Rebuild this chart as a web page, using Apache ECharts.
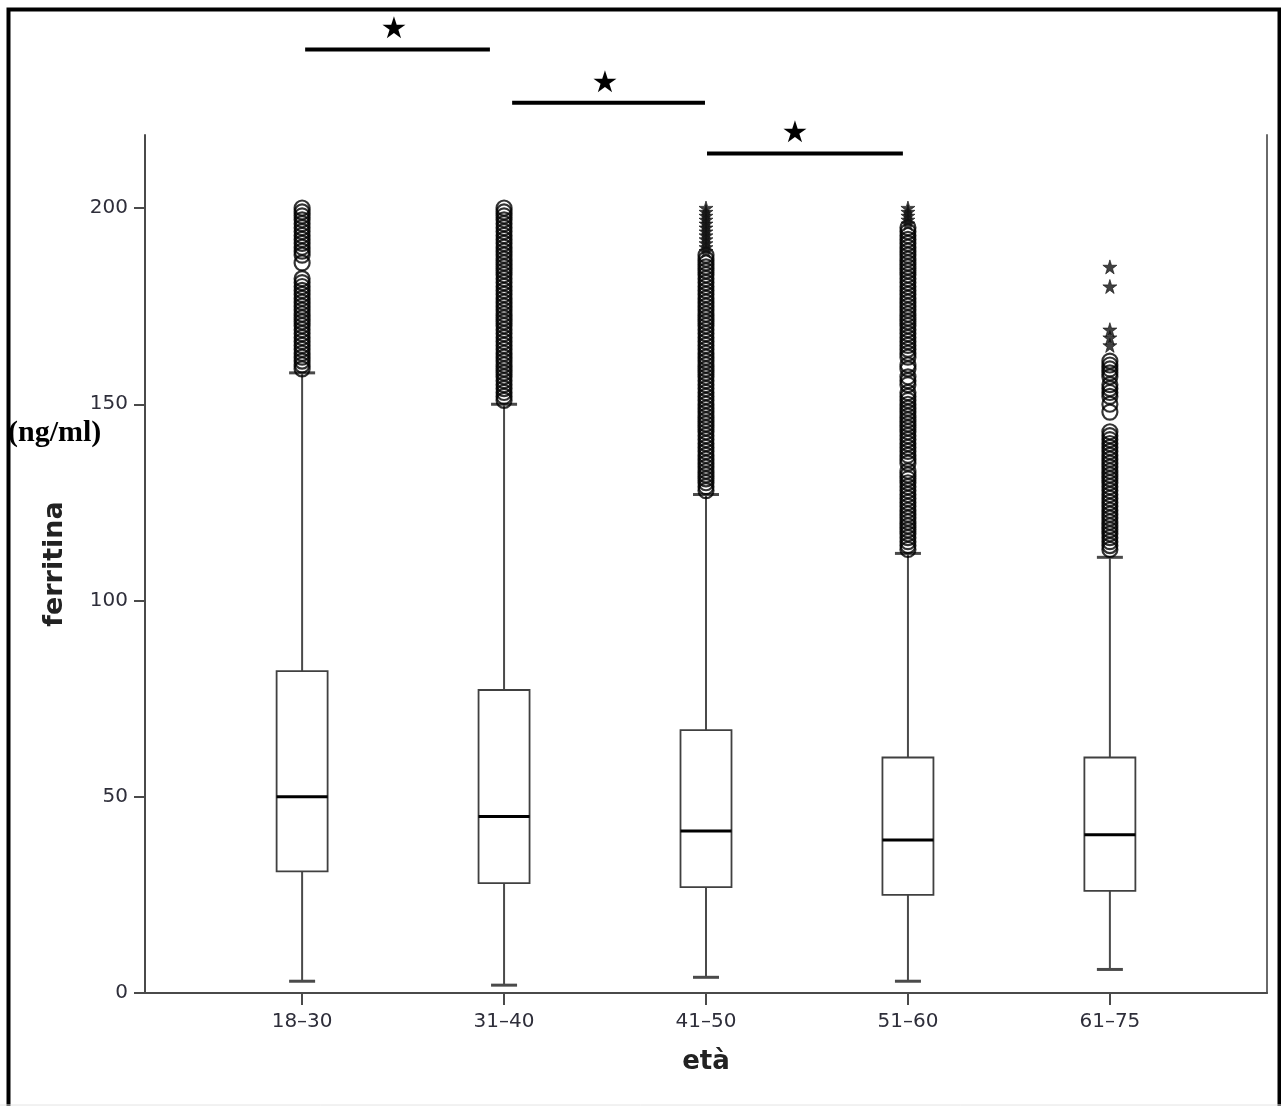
<!DOCTYPE html>
<html>
<head>
<meta charset="utf-8">
<title>ferritina per età</title>
<script src="https://cdn.jsdelivr.net/npm/echarts@6/dist/echarts.min.js"></script>
<style>
    html, body { margin: 0; padding: 0; background: #fff; }
    #chart { width: 1281px; height: 1106px; }
</style>
</head>
<body>
<div id="chart"></div>
<script>
// age groups and box statistics
var categories = ['18–30', '31–40', '41–50', '51–60', '61–75'];
var whiskerLow = [3, 2, 4, 3, 6];
var q1 = [31, 28, 27, 25, 26];
var median = [50, 45, 41.3, 39, 40.3];
var q3 = [82, 77.2, 67, 60, 60];
var whiskerHigh = [158, 150, 127, 112, 111];
var yTicks = [0, 50, 100, 150, 200];

// outliers (circles) and extremes (stars) per group
var circles1830 = [159, 160, 161, 162, 163, 164, 165, 166, 167, 168, 169, 170, 171, 172, 173, 174, 175, 176, 177, 178, 179, 180, 181, 182, 186, 188, 189, 190, 191, 192, 193, 194, 195, 196, 197, 198, 199, 200];
var circles3140 = [151, 152, 153, 154, 155, 156, 157, 158, 159, 160, 161, 162, 163, 164, 165, 166, 167, 168, 169, 170, 171, 172, 173, 174, 175, 176, 177, 178, 179, 180, 181, 182, 183, 184, 185, 186, 187, 188, 189, 190, 191, 192, 193, 194, 195, 196, 197, 198, 199, 200];
var circles4150 = [128, 129, 130, 131, 132, 133, 134, 135, 136, 137, 138, 139, 140, 141, 142, 143, 144, 145, 146, 147, 148, 149, 150, 151, 152, 153, 154, 155, 156, 157, 158, 159, 160, 161, 162, 163, 164, 165, 166, 167, 168, 169, 170, 171, 172, 173, 174, 175, 176, 177, 178, 179, 180, 181, 182, 183, 184, 185, 186, 187, 188];
var stars4150 = [189, 190, 191, 192, 193, 194, 195, 196, 197, 198, 199, 200];
var circles5160 = [113, 114, 115, 116, 117, 118, 119, 120, 121, 122, 123, 124, 125, 126, 127, 128, 129, 130, 131, 132, 133, 135, 136, 137, 138, 139, 140, 141, 142, 143, 144, 145, 146, 147, 148, 149, 150, 151, 152, 153, 155, 156, 157, 159, 160, 162, 163, 164, 165, 166, 167, 168, 169, 170, 171, 172, 173, 174, 175, 176, 177, 178, 179, 180, 181, 182, 183, 184, 185, 186, 187, 188, 189, 190, 191, 192, 193, 194, 195];
var stars5160 = [196, 197, 198, 199, 200];
var circles6175 = [113, 114, 115, 116, 117, 118, 119, 120, 121, 122, 123, 124, 125, 126, 127, 128, 129, 130, 131, 132, 133, 134, 135, 136, 137, 138, 139, 140, 141, 142, 143, 148, 150, 152, 153, 154, 155, 157, 158, 159, 160, 161];
var stars6175 = [165, 167, 169, 180, 185];

// significance brackets: from group, to group, level, star position
var bracketFrom = [1.015, 2.04, 3.005];
var bracketTo = [1.93, 2.995, 3.975];
var bracketLevel = [240.4, 226.8, 213.9];
var bracketStar = [1.455, 2.5, 3.44];

var circleGroups = [circles1830, circles3140, circles4150, circles5160, circles6175];
var starGroups = [[], [], stars4150, stars5160, stars6175];

var boxData = categories.map(function (c, i) {
    return [i + 1, whiskerLow[i], q1[i], median[i], q3[i], whiskerHigh[i]];
});
var circleData = [];
var starData = [];
circleGroups.forEach(function (arr, i) {
    arr.forEach(function (v) { circleData.push([i + 1, v]); });
});
starGroups.forEach(function (arr, i) {
    arr.forEach(function (v) { starData.push([i + 1, v]); });
});
var bracketData = bracketFrom.map(function (f, i) {
    return [f, bracketTo[i], bracketLevel[i], bracketStar[i]];
});

var starPath = 'path://M50,0 L61,35 L98,35 L68,57 L79,91 L50,70 L21,91 L32,57 L2,35 L39,35 Z';

function renderBox(params, api) {
    var x = api.value(0);
    var lo = api.coord([x, api.value(1)]);
    var b1 = api.coord([x, api.value(2)]);
    var md = api.coord([x, api.value(3)]);
    var b3 = api.coord([x, api.value(4)]);
    var hi = api.coord([x, api.value(5)]);
    var cx = lo[0];
    var half = 25.5, cap = 13;
    var wStyle = { stroke: '#4a4a4a', lineWidth: 2 };
    return {
        type: 'group',
        children: [
            { type: 'line', shape: { x1: cx, y1: b1[1], x2: cx, y2: lo[1] }, style: wStyle },
            { type: 'line', shape: { x1: cx - cap, y1: lo[1], x2: cx + cap, y2: lo[1] }, style: { stroke: '#4a4a4a', lineWidth: 3 } },
            { type: 'line', shape: { x1: cx, y1: b3[1], x2: cx, y2: hi[1] }, style: wStyle },
            { type: 'line', shape: { x1: cx - cap, y1: hi[1], x2: cx + cap, y2: hi[1] }, style: { stroke: '#4a4a4a', lineWidth: 3 } },
            { type: 'rect', shape: { x: cx - half, y: b3[1], width: half * 2, height: b1[1] - b3[1] },
              style: { fill: '#fff', stroke: '#404040', lineWidth: 1.8 } },
            { type: 'line', shape: { x1: cx - half, y1: md[1], x2: cx + half, y2: md[1] }, style: { stroke: '#000', lineWidth: 3 } }
        ]
    };
}

function renderBracket(params, api) {
    var a = api.coord([api.value(0), api.value(2)]);
    var b = api.coord([api.value(1), api.value(2)]);
    var s = api.coord([api.value(3), api.value(2)]);
    return {
        type: 'group',
        children: [
            { type: 'line', shape: { x1: a[0], y1: a[1], x2: b[0], y2: b[1] }, style: { stroke: '#000', lineWidth: 4 } },
            { type: 'text', x: s[0], y: s[1] - 19,
              style: { text: '★', font: '30px "DejaVu Sans"', fill: '#000', align: 'center', verticalAlign: 'middle' } }
        ]
    };
}

var chart = echarts.init(document.getElementById('chart'));
chart.setOption({
    animation: false,
    backgroundColor: '#fff',
    grid: { left: 145, right: 14, top: 135, bottom: 113 },
    xAxis: {
        type: 'value',
        min: 0.222,
        max: 5.778,
        name: 'età',
        nameLocation: 'middle',
        nameGap: 56,
        nameTextStyle: { fontFamily: 'DejaVu Sans', fontWeight: 'bold', fontSize: 26, color: '#222' },
        axisLine: { show: true, lineStyle: { color: '#4a4a4a', width: 2 } },
        axisTick: { show: true, length: 12, customValues: [1, 2, 3, 4, 5], lineStyle: { color: '#4a4a4a', width: 2 } },
        axisLabel: {
            customValues: [1, 2, 3, 4, 5],
            margin: 19,
            fontFamily: 'DejaVu Sans',
            fontSize: 20,
            color: '#2e2e3a',
            formatter: function (v) { return categories[Math.round(v) - 1] || ''; }
        },
        splitLine: { show: false }
    },
    yAxis: [{
        type: 'value',
        min: 0,
        max: 218.6,
        name: 'ferritina',
        nameLocation: 'middle',
        nameGap: 77,
        nameRotate: 90,
        nameTextStyle: { fontFamily: 'DejaVu Sans', fontWeight: 'bold', fontSize: 27, color: '#222' },
        axisLine: { show: true, lineStyle: { color: '#4a4a4a', width: 2 } },
        axisTick: { show: true, length: 11, customValues: yTicks, lineStyle: { color: '#4a4a4a', width: 2 } },
        axisLabel: { customValues: yTicks, margin: 17, fontFamily: 'DejaVu Sans', fontSize: 20, color: '#2e2e3a' },
        splitLine: { show: false }
    }, {
        type: 'value',
        position: 'right',
        min: 0,
        max: 218.6,
        axisLine: { show: true, lineStyle: { color: '#6a6a6a', width: 2 } },
        axisTick: { show: false },
        axisLabel: { show: false },
        splitLine: { show: false }
    }],
    graphic: [
        { type: 'polyline', shape: { points: [[8.5, 1106], [8.5, 9.5], [1279.5, 9.5], [1279.5, 1106]] },
          style: { stroke: '#000', lineWidth: 4, fill: null } },
        { type: 'line', shape: { x1: 0, y1: 1105, x2: 1281, y2: 1105 }, style: { stroke: '#e4e4e4', lineWidth: 1 } },
        { type: 'text', left: 8, top: 418,
          style: { text: '(ng/ml)', font: 'bold 30px "Liberation Serif"', fill: '#000' } }
    ],
    series: [{
        type: 'custom',
        name: 'box',
        renderItem: renderBox,
        encode: { x: 0, y: [1, 2, 3, 4, 5] },
        data: boxData,
        z: 2
    }, {
        type: 'scatter',
        name: 'outliers',
        symbol: 'circle',
        symbolSize: 15,
        itemStyle: { color: 'rgba(0,0,0,0)', borderColor: '#000', borderWidth: 2.2 },
        data: circleData,
        z: 3
    }, {
        type: 'scatter',
        name: 'extremes',
        symbol: starPath,
        symbolSize: 14,
        itemStyle: { color: '#111', borderColor: '#111', borderWidth: 0.8 },
        data: starData,
        z: 3
    }, {
        type: 'custom',
        name: 'brackets',
        clip: false,
        renderItem: renderBracket,
        encode: { x: [0, 1, 3], y: 2 },
        data: bracketData,
        z: 4
    }]
});
</script>
</body>
</html>
